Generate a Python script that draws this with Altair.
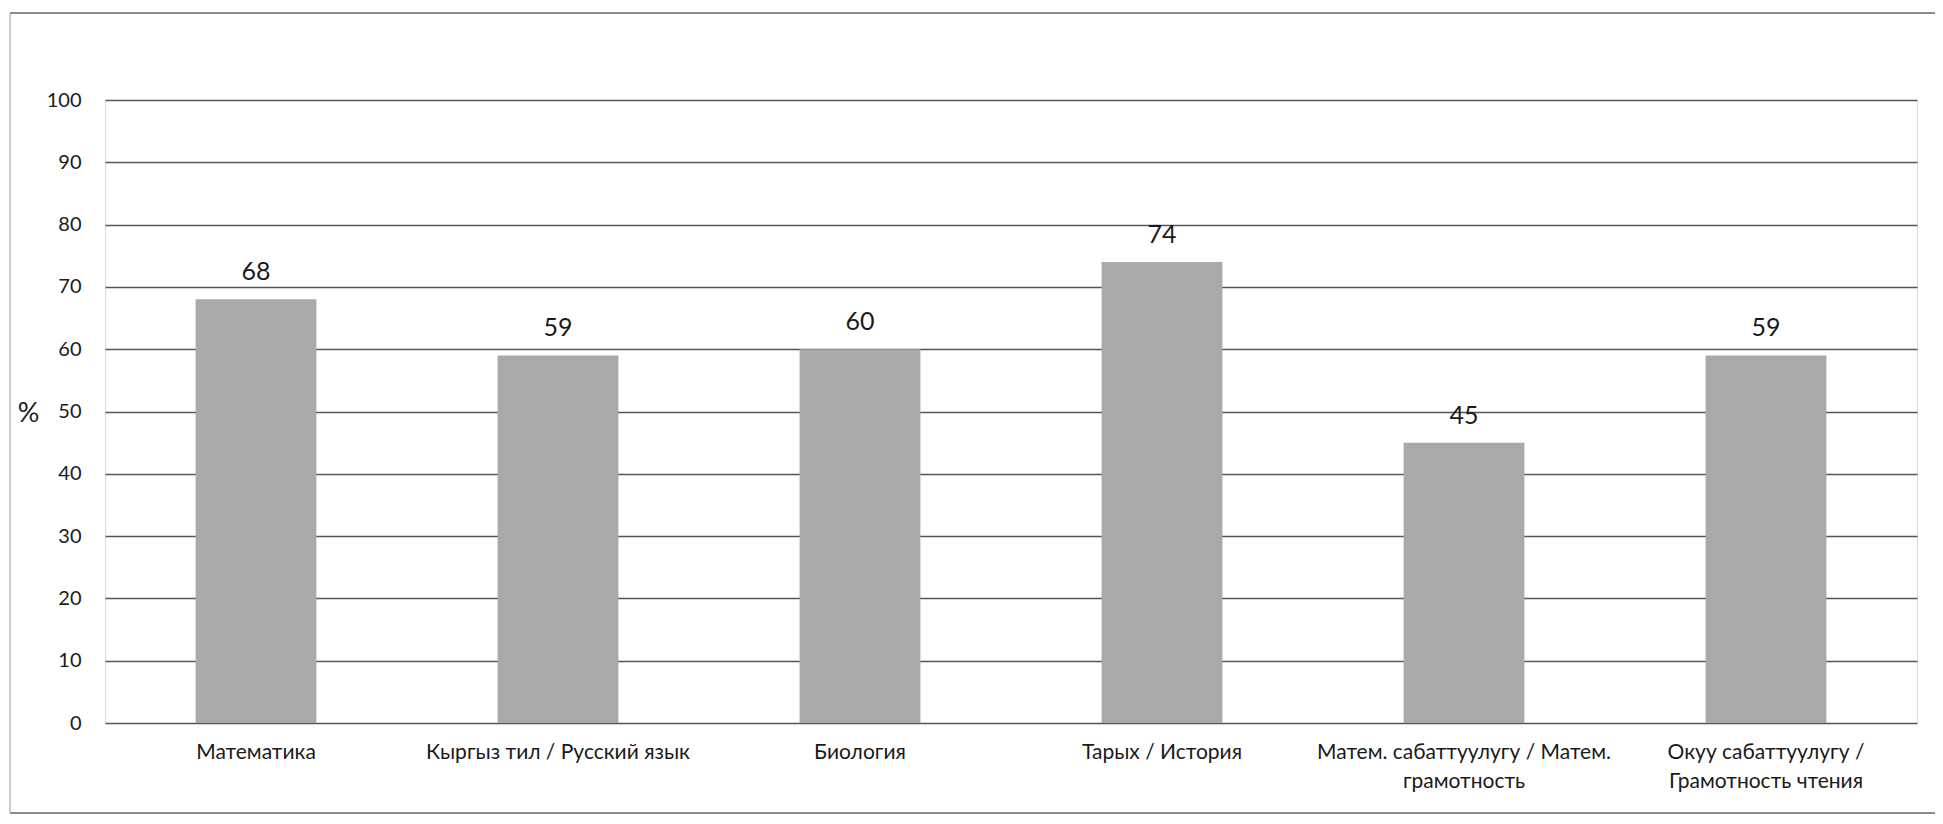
import json
import altair as alt
import pandas as pd

label_lines = [
    ["Математика"],
    ["Кыргыз тил / Русский язык"],
    ["Биология"],
    ["Тарых / История"],
    ["Матем. сабаттуулугу / Матем.", "грамотность"],
    ["Окуу сабаттуулугу /", "Грамотность чтения"],
]
categories = [" ".join(l) for l in label_lines]
values = [68, 59, 60, 74, 45, 59]
y_ticks = [0, 10, 20, 30, 40, 50, 60, 70, 80, 90, 100]

df = pd.DataFrame({"subject": categories, "value": values})
label_map = json.dumps(dict(zip(categories, label_lines)), ensure_ascii=False)

FONT = "Lato, Open Sans, sans-serif"
W, H = 1812, 623

x_enc = alt.X(
    "subject:N",
    sort=categories,
    title=None,
    scale=alt.Scale(paddingInner=0.6, paddingOuter=0.3),
    axis=alt.Axis(
        labelAngle=0,
        labelExpr=f"{label_map}[datum.label]",
        labelFont=FONT,
        labelFontSize=21,
        labelColor="#1a1a1a",
        labelLineHeight=29,
        labelPadding=18,
        labelBaseline="top",
        labelLimit=400,
        ticks=False,
        domain=False,
        grid=False,
    ),
)
y_enc = alt.Y(
    "value:Q",
    scale=alt.Scale(domain=[0, 100]),
    axis=alt.Axis(
        values=y_ticks,
        title="%",
        titleAngle=0,
        titleX=-77,
        titleY=313,
        titleAlign="center",
        titleBaseline="middle",
        titleFont=FONT,
        titleFontSize=27,
        titleFontWeight="normal",
        titleColor="#1a1a1a",
        labelFont=FONT,
        labelFontSize=20,
        labelColor="#1a1a1a",
        labelPadding=24,
        ticks=False,
        domain=False,
        grid=True,
        gridColor="#555555",
        gridWidth=1.4,
    ),
)

bars = alt.Chart(df).mark_bar(color="#a9a9a9").encode(x=x_enc, y=y_enc)
text = alt.Chart(df).mark_text(
    font=FONT, fontSize=25, color="#1a1a1a", baseline="alphabetic", dy=-19
).encode(x=alt.X("subject:N", sort=categories), y="value:Q", text="value:Q")

frame_df = pd.DataFrame({"k": [0]})
top_rule = alt.Chart(frame_df).mark_rule(color="#666666", strokeWidth=1.6).encode(
    x=alt.value(-95), x2=alt.value(W + 18), y=alt.value(-87)
)
bottom_rule = alt.Chart(frame_df).mark_rule(color="#666666", strokeWidth=1.6).encode(
    x=alt.value(-95), x2=alt.value(W + 18), y=alt.value(713)
)
left_rule = alt.Chart(frame_df).mark_rule(color="#aaaaaa", strokeWidth=1.2).encode(
    x=alt.value(-95), y=alt.value(-87), y2=alt.value(713)
)

chart = (
    alt.layer(bars, text, top_rule, bottom_rule, left_rule)
    .properties(
        width=W,
        height=H,
        autosize=alt.AutoSizeParams(type="none"),
        padding={"left": 97, "top": 92, "right": 18, "bottom": 93},
    )
    .configure_view(stroke=None)
    .configure(background="white")
)

chart.save("out.html", embed_options={"renderer": "svg", "actions": False})
